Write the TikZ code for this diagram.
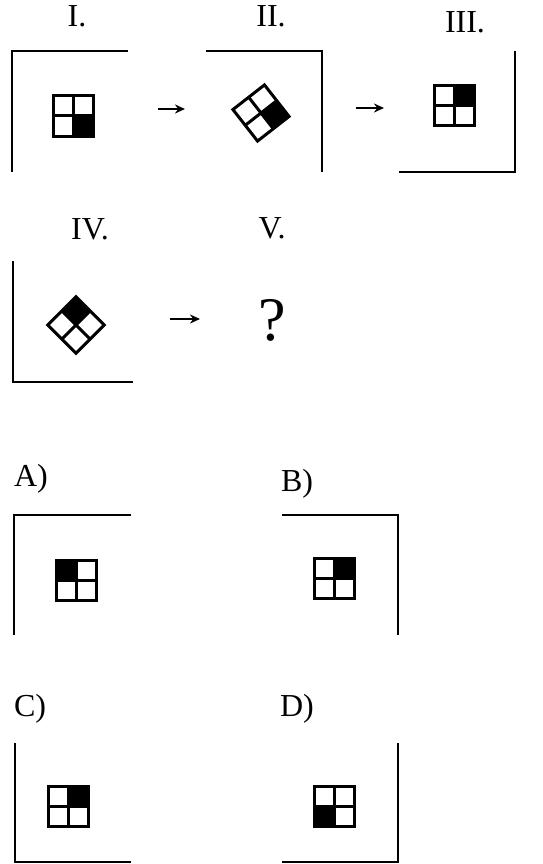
\documentclass[tikz,border=0pt]{standalone}
\usepackage{fontspec}
\setmainfont{Liberation Serif}
\usetikzlibrary{arrows.meta}
\tikzset{
  frameline/.style={line width=2.5pt, line join=miter},
  cellline/.style={line width=3pt, line join=miter},
  lbl/.style={anchor=base, inner sep=0pt, font=\fontsize{32}{38}\selectfont},
  qmark/.style={anchor=base, inner sep=0pt, font=\fontsize{62}{68}\selectfont},
  arr/.style={line width=2.5pt, -{Stealth[length=10pt,width=9pt]}}
}
% #1 center, #2 rotation, #3 black quadrant rectangle (local, y down)
\newcommand{\qsq}[3]{%
  \begin{scope}[shift={#1}, rotate=#2]
    \fill[black] #3;
    \draw[cellline] (-20,-20) rectangle (20,20);
    \draw[cellline] (0,-20) -- (0,20) (-20,0) -- (20,0);
  \end{scope}}
\begin{document}
\begin{tikzpicture}[x=1pt, y=-1pt]
\useasboundingbox (0,0) rectangle (542,864);
% labels
\node[lbl] (lI)   at (77,27)  {I.};
\node[lbl] (lII)  at (271,27) {II.};
\node[lbl] (lIII) at (465,33) {III.};
\node[lbl] (lIV)  at (90,239) {IV.};
\node[lbl] (lV)   at (272,238) {V.};
\node[qmark] (q)  at (272,340) {?};
\node[lbl] (lA) at (31,486) {A)};
\node[lbl] (lB) at (297,491) {B)};
\node[lbl] (lC) at (30,716) {C)};
\node[lbl] (lD) at (297,716) {D)};
% frames
\draw[frameline] (128,51) -- (12,51) -- (12,172);
\draw[frameline] (206,51) -- (322,51) -- (322,172);
\draw[frameline] (515,51) -- (515,172) -- (399,172);
\draw[frameline] (13,261) -- (13,382) -- (133,382);
\draw[frameline] (131,515) -- (14,515) -- (14,635);
\draw[frameline] (282,515) -- (398,515) -- (398,635);
\draw[frameline] (15,743) -- (15,862) -- (131,862);
\draw[frameline] (398,743) -- (398,862) -- (282,862);
% squares
\qsq{(73,116)}{0}{(0,0) rectangle (20,20)}
\qsq{(261,113)}{38}{(0,0) rectangle (20,20)}
\qsq{(454,106)}{0}{(0,-20) rectangle (20,0)}
\qsq{(76,325)}{45}{(0,-20) rectangle (20,0)}
\qsq{(76,580)}{0}{(-20,-20) rectangle (0,0)}
\qsq{(334,578)}{0}{(0,-20) rectangle (20,0)}
\qsq{(68,806)}{0}{(0,-20) rectangle (20,0)}
\qsq{(334,806)}{0}{(-20,0) rectangle (0,20)}
% arrows
\coordinate (a1s) at (158,109); \coordinate (a1e) at (185,109);
\coordinate (a2s) at (356,108); \coordinate (a2e) at (384,108);
\coordinate (a3s) at (170,319); \coordinate (a3e) at (200,319);
\draw[arr] (a1s) -- (a1e);
\draw[arr] (a2s) -- (a2e);
\draw[arr] (a3s) -- (a3e);
\end{tikzpicture}
\end{document}
